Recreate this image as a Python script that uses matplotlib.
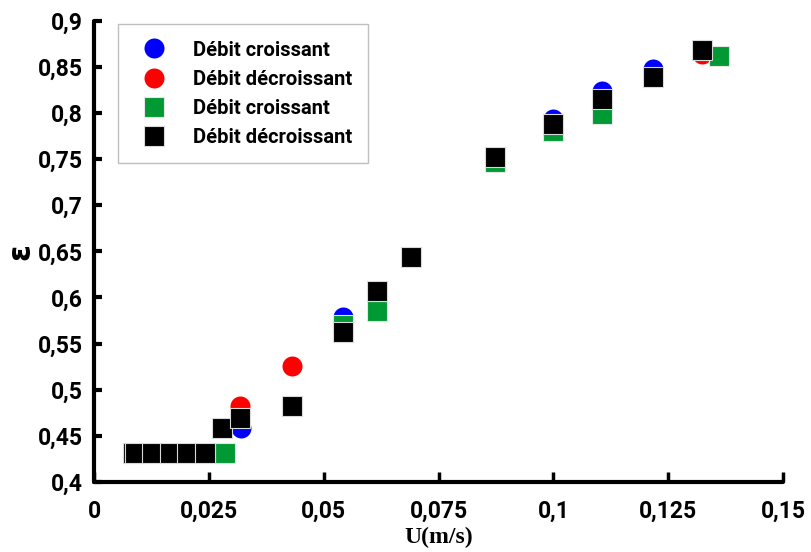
import matplotlib.pyplot as plt
from matplotlib.ticker import FuncFormatter

plt.rcParams['font.family'] = ['Roboto', 'DejaVu Sans']

# données (U en m/s, epsilon)
u_bleu = [0.0320, 0.0543, 0.0999, 0.1107, 0.1216]
e_bleu = [0.458, 0.5785, 0.793, 0.824, 0.8476]

u_rouge = [0.0318, 0.0430, 0.1323]
e_rouge = [0.482, 0.5257, 0.864]

u_vert = [0.0285, 0.0543, 0.0616, 0.0872, 0.0999, 0.1107, 0.1361]
e_vert = [0.4314, 0.5705, 0.5853, 0.747, 0.780, 0.7989, 0.862]

u_noir = [0.0084, 0.0089, 0.0127, 0.0165, 0.0203, 0.0242, 0.0278, 0.0318,
          0.0430, 0.0543, 0.0616, 0.0690, 0.0872, 0.0999, 0.1107, 0.1216, 0.1323]
e_noir = [0.4314, 0.4314, 0.4314, 0.4314, 0.4314, 0.4314, 0.4585, 0.4697,
          0.4827, 0.5622, 0.607, 0.6439, 0.7519, 0.7884, 0.8151, 0.839, 0.8682]

labels = ['Débit croissant', 'Débit décroissant', 'Débit croissant', 'Débit décroissant']
x_ticks = [0, 0.025, 0.05, 0.075, 0.1, 0.125, 0.15]
y_ticks = [0.4, 0.45, 0.5, 0.55, 0.6, 0.65, 0.7, 0.75, 0.8, 0.85, 0.9]

fig = plt.figure(figsize=(8.11, 5.52), dpi=100)
ax = fig.add_axes([0.1159, 0.1268, 0.8496, 0.8357])

ax.plot(u_bleu, e_bleu, 'o', color='#0000ff', ms=14.4, mew=0, label=labels[0], clip_on=False)
ax.plot(u_rouge, e_rouge, 'o', color='#ff0000', ms=14.4, mew=0, label=labels[1], clip_on=False)
ax.plot(u_vert, e_vert, 's', color='#009933', ms=14, mec='#e6e6e6', mew=0.8, label=labels[2], clip_on=False)
ax.plot(u_noir, e_noir, 's', color='#000000', ms=14, mec='#d9d9d9', mew=0.8, label=labels[3], clip_on=False)

ax.set_xlim(0, 0.15)
ax.set_ylim(0.4, 0.9)
ax.set_xticks(x_ticks)
ax.set_yticks(y_ticks)

virgule = FuncFormatter(lambda v, p: f'{v:g}'.replace('.', ','))
ax.xaxis.set_major_formatter(virgule)
ax.yaxis.set_major_formatter(virgule)

for side in ['top', 'right']:
    ax.spines[side].set_visible(False)
for side in ['left', 'bottom']:
    ax.spines[side].set_linewidth(3)
    ax.spines[side].set_capstyle('round')

ax.tick_params(axis='y', direction='in', length=6, width=3, pad=8, labelsize=16.5)
ax.tick_params(axis='x', direction='in', length=7, width=2.5, pad=13, labelsize=16.5)
for t in ax.get_xticklabels() + ax.get_yticklabels():
    t.set_fontweight('bold')

ax.set_xlabel('U(m/s)', family='Liberation Serif', fontweight='bold', fontsize=17, labelpad=3)
ax.set_ylabel('ε', family='DejaVu Sans', fontweight='bold', fontsize=22, labelpad=2)

leg = ax.legend(loc='upper left', bbox_to_anchor=(0.035, 0.992), borderaxespad=0,
                fancybox=False, framealpha=1, edgecolor='#bfbfbf', numpoints=1,
                prop={'weight': 'bold', 'size': 14.5}, borderpad=0.8,
                labelspacing=0.5, handlelength=2.0, handletextpad=0.9)
leg.get_frame().set_linewidth(1)

plt.savefig('out.png', dpi=100)
